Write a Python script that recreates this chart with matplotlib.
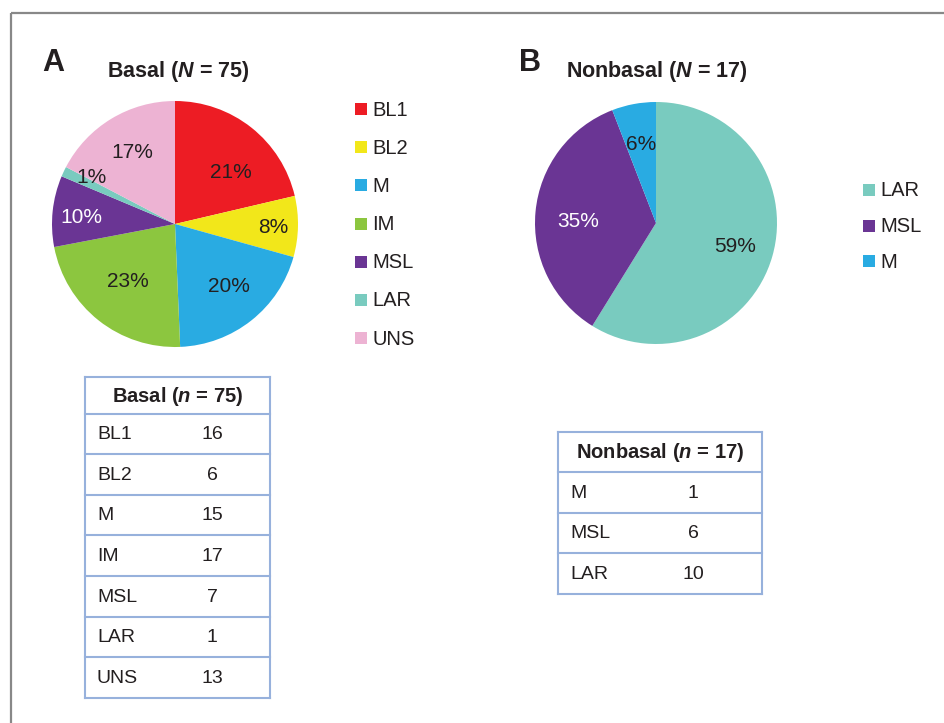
import numpy as np
import matplotlib
matplotlib.use('Agg')
import matplotlib.pyplot as plt
from matplotlib.patches import Rectangle

plt.rcParams['font.family'] = ['Liberation Sans', 'DejaVu Sans']
plt.rcParams['mathtext.fontset'] = 'custom'
plt.rcParams['mathtext.rm'] = 'Liberation Sans:bold'
plt.rcParams['mathtext.it'] = 'Liberation Sans:bold:italic'
plt.rcParams['mathtext.bf'] = 'Liberation Sans:bold'

# ---- data ----
basal_labels = ['BL1', 'BL2', 'M', 'IM', 'MSL', 'LAR', 'UNS']
basal_counts = [16, 6, 15, 17, 7, 1, 13]
basal_pct = [21, 8, 20, 23, 10, 1, 17]

nonbasal_labels = ['LAR', 'MSL', 'M']
nonbasal_counts = [10, 6, 1]
nonbasal_pct = [59, 35, 6]
nonbasal_table_labels = ['M', 'MSL', 'LAR']
nonbasal_table_counts = [1, 6, 10]

colors = {'BL1': '#ED1C24', 'BL2': '#F2E71A', 'M': '#29ABE2', 'IM': '#8CC63F',
          'MSL': '#6A3594', 'LAR': '#79CBBF', 'UNS': '#EDB3D3'}
white_text = ['MSL']
txt_col = '#231F20'
line_col = '#97B1DC'

W, H = 944, 723
fig = plt.figure(figsize=(W / 100, H / 100), dpi=100)
ov = fig.add_axes([0, 0, 1, 1])
ov.set_xlim(0, W)
ov.set_ylim(H, 0)
ov.axis('off')

# outer frame
ov.plot([11, W + 5], [13, 13], color='#888888', lw=1.6, solid_capstyle='butt')
ov.plot([11, 11], [13, H + 5], color='#888888', lw=1.6, solid_capstyle='butt')


def pie_axes(cx, cy, r):
    a = fig.add_axes([(cx - r) / W, (H - cy - r) / H, 2 * r / W, 2 * r / H])
    return a


def draw_pie(a, labels, counts, pcts, radii, offs):
    wedges, _ = a.pie(counts, colors=[colors[l] for l in labels], startangle=90,
                      counterclock=False, radius=1.0, wedgeprops=dict(linewidth=0))
    a.set_xlim(-1, 1)
    a.set_ylim(-1, 1)
    a.axis('off')
    for w, lab, p, rr, off in zip(wedges, labels, pcts, radii, offs):
        ang = np.deg2rad((w.theta1 + w.theta2) / 2 + off)
        c = 'white' if lab in white_text else txt_col
        a.text(rr * np.cos(ang), rr * np.sin(ang), f'{p}%', ha='center', va='center',
               fontsize=15, color=c)


axA = pie_axes(175, 224, 123)
draw_pie(axA, basal_labels, basal_counts, basal_pct,
         [0.62, 0.80, 0.67, 0.61, 0.76, 0.78, 0.68],
         [-9, -1, 2.5, -1, 2, -4, -0.5])

axB = pie_axes(656, 223, 121)
draw_pie(axB, nonbasal_labels, nonbasal_counts, nonbasal_pct,
         [0.68, 0.64, 0.66], [-1, 4, 0])

# panel letters and titles
ov.text(53, 63, 'A', fontsize=22, fontweight='bold', ha='center', va='center', color=txt_col)
ov.text(178, 71, r'Basal ($N$ = 75)', fontsize=15.5, fontweight='bold', ha='center', va='center', color=txt_col)
ov.text(530, 63, 'B', fontsize=22, fontweight='bold', ha='center', va='center', color=txt_col)
ov.text(657, 71, r'Nonbasal ($N$ = 17)', fontsize=15.5, fontweight='bold', ha='center', va='center', color=txt_col)


def legend(x, y0, dy, labels):
    for i, lab in enumerate(labels):
        y = y0 + i * dy
        ov.add_patch(Rectangle((x, y - 6), 12, 12, color=colors[lab], lw=0))
        ov.text(x + 17, y + 1, lab, fontsize=14.5, ha='left', va='center', color=txt_col)


legend(355, 109, 38.2, basal_labels)
legend(863, 190, 35.5, nonbasal_labels)


def table(x0, x1, top, head_h, row_h, header, labels, counts, valx):
    n = len(labels)
    bottom = top + head_h + n * row_h
    ov.plot([x0, x0], [top, bottom], color=line_col, lw=1.5)
    ov.plot([x1, x1], [top, bottom], color=line_col, lw=1.5)
    ov.plot([x0, x1], [top, top], color=line_col, lw=1.5)
    ov.text((x0 + x1) / 2, top + head_h / 2 + 1, header, fontsize=14.5, fontweight='bold',
            ha='center', va='center', color=txt_col)
    for i, (lab, cnt) in enumerate(zip(labels, counts)):
        yl = top + head_h + i * row_h
        ov.plot([x0, x1], [yl, yl], color=line_col, lw=1.5)
        ov.text(x0 + 12, yl + row_h / 2 + 1, lab, fontsize=14, ha='left', va='center', color=txt_col)
        ov.text(valx, yl + row_h / 2 + 1, str(cnt), fontsize=14, ha='center', va='center', color=txt_col)
    ov.plot([x0, x1], [bottom, bottom], color=line_col, lw=1.5)


table(85, 270, 377, 36.5, 40.6, r'Basal ($n$ = 75)', basal_labels, basal_counts, 212)
table(558, 762, 432, 40, 40.5, r'Nonbasal ($n$ = 17)', nonbasal_table_labels,
      nonbasal_table_counts, 693)

fig.savefig('out.png', dpi=100)
